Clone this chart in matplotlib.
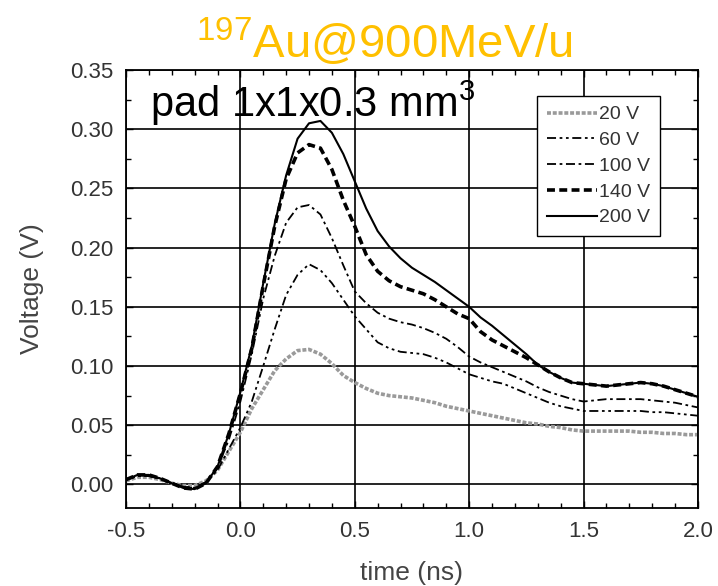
import matplotlib
matplotlib.use("Agg")
import matplotlib.pyplot as plt
from matplotlib.ticker import MultipleLocator

plt.rcParams['font.family'] = ['Liberation Sans', 'DejaVu Sans']
plt.rcParams['mathtext.fontset'] = 'custom'
plt.rcParams['mathtext.rm'] = 'Liberation Sans'
plt.rcParams['mathtext.it'] = 'Liberation Sans'
plt.rcParams['mathtext.bf'] = 'Liberation Sans'

# ---- data ----
time_ns = [-0.5, -0.45, -0.4, -0.35, -0.3, -0.25, -0.2, -0.15, -0.1, -0.05,
           0.0, 0.05, 0.1, 0.15, 0.2, 0.25, 0.3, 0.35, 0.4, 0.45,
           0.5, 0.55, 0.6, 0.65, 0.7, 0.75, 0.8, 0.85, 0.9, 0.95,
           1.0, 1.05, 1.1, 1.15, 1.2, 1.25, 1.3, 1.35, 1.4, 1.45,
           1.5, 1.55, 1.6, 1.65, 1.7, 1.75, 1.8, 1.85, 1.9, 1.95, 2.0]

v20 = [0.003, 0.006, 0.006, 0.004, 0.001, -0.001, -0.001, 0.003, 0.012, 0.028,
       0.044, 0.064, 0.080, 0.096, 0.106, 0.113, 0.114, 0.110, 0.102, 0.092,
       0.086, 0.081, 0.077, 0.075, 0.074, 0.073, 0.071, 0.069, 0.066, 0.064,
       0.062, 0.060, 0.058, 0.056, 0.054, 0.052, 0.051, 0.049, 0.048, 0.046,
       0.045, 0.045, 0.045, 0.045, 0.045, 0.044, 0.044, 0.043, 0.043, 0.042, 0.042]

v60 = [0.004, 0.007, 0.007, 0.005, 0.001, -0.002, -0.003, 0.002, 0.012, 0.030,
       0.048, 0.070, 0.100, 0.131, 0.160, 0.177, 0.186, 0.181, 0.170, 0.156,
       0.142, 0.131, 0.120, 0.115, 0.112, 0.111, 0.110, 0.107, 0.103, 0.098,
       0.093, 0.090, 0.087, 0.085, 0.081, 0.077, 0.073, 0.069, 0.066, 0.064,
       0.062, 0.062, 0.062, 0.062, 0.062, 0.062, 0.061, 0.061, 0.060, 0.059, 0.058]

v100 = [0.004, 0.007, 0.007, 0.005, 0.001, -0.002, -0.003, 0.002, 0.014, 0.038,
        0.070, 0.110, 0.157, 0.193, 0.221, 0.234, 0.236, 0.228, 0.208, 0.185,
        0.163, 0.153, 0.145, 0.140, 0.137, 0.135, 0.132, 0.128, 0.123, 0.116,
        0.108, 0.103, 0.099, 0.095, 0.091, 0.087, 0.082, 0.078, 0.075, 0.072,
        0.070, 0.071, 0.072, 0.072, 0.072, 0.072, 0.071, 0.070, 0.069, 0.067, 0.065]

v140 = [0.004, 0.008, 0.008, 0.005, 0.001, -0.003, -0.004, 0.001, 0.015, 0.043,
        0.077, 0.115, 0.168, 0.218, 0.258, 0.280, 0.287, 0.284, 0.266, 0.240,
        0.218, 0.194, 0.180, 0.172, 0.167, 0.164, 0.161, 0.156, 0.150, 0.144,
        0.140, 0.129, 0.122, 0.117, 0.112, 0.107, 0.101, 0.095, 0.090, 0.086,
        0.085, 0.084, 0.083, 0.084, 0.085, 0.086, 0.085, 0.083, 0.080, 0.077, 0.074]

v200 = [0.004, 0.008, 0.008, 0.005, 0.001, -0.003, -0.004, 0.001, 0.015, 0.043,
        0.078, 0.117, 0.170, 0.220, 0.261, 0.292, 0.305, 0.307, 0.297, 0.279,
        0.256, 0.233, 0.214, 0.201, 0.191, 0.183, 0.177, 0.171, 0.164, 0.157,
        0.150, 0.141, 0.134, 0.126, 0.118, 0.110, 0.101, 0.095, 0.090, 0.086,
        0.085, 0.084, 0.083, 0.084, 0.085, 0.086, 0.085, 0.083, 0.080, 0.077, 0.074]

series_labels = ['20 V', '60 V', '100 V', '140 V', '200 V']
x_ticks = [-0.5, 0.0, 0.5, 1.0, 1.5, 2.0]
y_ticks = [0.00, 0.05, 0.10, 0.15, 0.20, 0.25, 0.30, 0.35]

# ---- figure ----
fig = plt.figure(figsize=(7.18, 5.86), dpi=100)
ax = fig.add_axes([0.1755, 0.133, 0.7965, 0.7475])

styles = [
    dict(color='#9a9a9a', lw=2.6, dashes=(1.1, 0.5)),
    dict(color='black', lw=1.3, dashes=(5, 2, 1.5, 2, 1.5, 2)),
    dict(color='black', lw=1.3, dashes=(5, 2, 1.5, 2)),
    dict(color='black', lw=2.6, dashes=(2.2, 1.2)),
    dict(color='black', lw=1.5, linestyle='-'),
]
for vals, lab, st in zip([v20, v60, v100, v140, v200], series_labels, styles):
    ax.plot(time_ns, vals, label=lab, **st)

ax.set_xlim(-0.5, 2.0)
ax.set_ylim(-0.02, 0.35)
ax.set_xticks(x_ticks)
ax.set_yticks(y_ticks)
ax.set_xticklabels([f'{v:.1f}' for v in x_ticks])
ax.set_yticklabels([f'{v:.2f}' for v in y_ticks])
ax.xaxis.set_minor_locator(MultipleLocator(0.1))
ax.yaxis.set_minor_locator(MultipleLocator(0.025))
ax.tick_params(which='both', direction='in', top=True, right=True, width=1.0)
ax.tick_params(which='major', length=5, labelsize=16, labelcolor='#333333', pad=9)
ax.tick_params(which='minor', length=3.5)
ax.grid(True, which='major', color='black', lw=1.2)
for s in ax.spines.values():
    s.set_linewidth(1.3)

ax.set_xlabel('time (ns)', fontsize=19, color='#444444', labelpad=14)
ax.set_ylabel('Voltage (V)', fontsize=19, color='#444444', labelpad=19)

leg = ax.legend(loc='upper right', bbox_to_anchor=(0.9336, 0.9406), borderaxespad=0,
                fancybox=False, framealpha=1, edgecolor='black',
                handlelength=2.58, handletextpad=0.1, labelspacing=0.42,
                borderpad=0.5, prop={'size': 14})
leg.get_frame().set_linewidth(1.0)
for t in leg.get_texts():
    t.set_color('#333333')

ax.text(0.042, 0.893, 'pad 1x1x0.3 mm$^3$', transform=ax.transAxes,
        fontsize=30, va='baseline', ha='left', color='black')

fig.text(0.536, 0.901, '$^{197}$Au@900MeV/u', fontsize=34, color='#FFC000',
         ha='center', va='baseline')

fig.savefig('out.png', dpi=100)
